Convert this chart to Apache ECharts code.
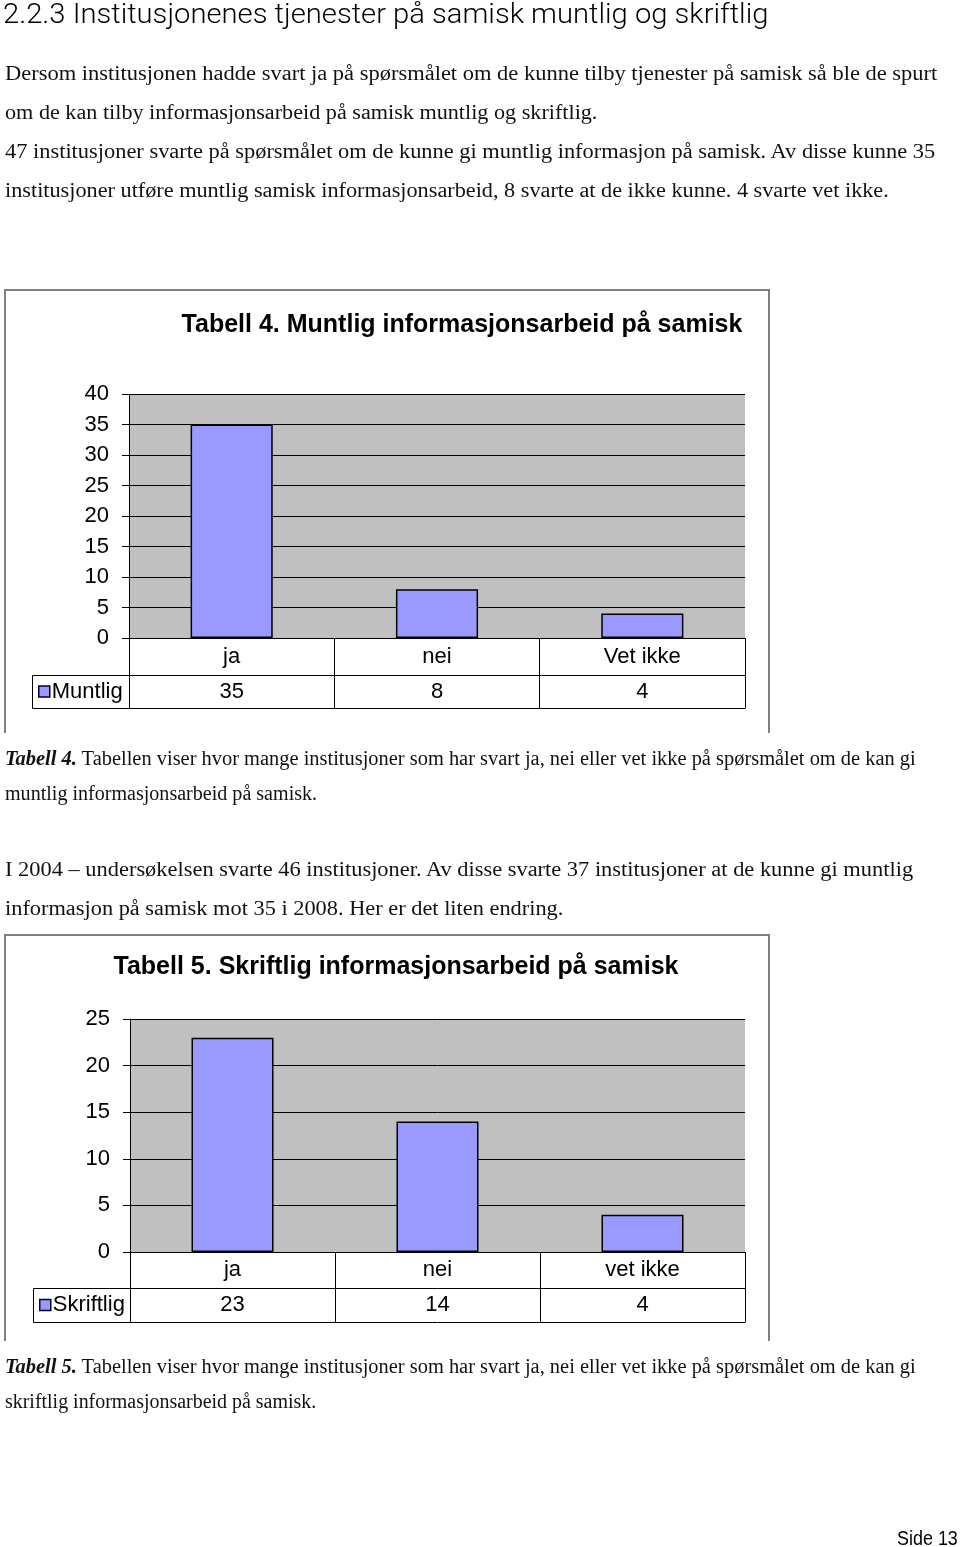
<!DOCTYPE html>
<html><head><meta charset="utf-8">
<script src="https://cdn.jsdelivr.net/npm/echarts@6/dist/echarts.min.js"></script>
<style>
html,body{margin:0;padding:0;background:#fff;}
body{width:960px;height:1547px;position:relative;overflow:hidden;}
#c{position:absolute;left:0;top:0;width:960px;height:1547px;z-index:1;}
.t{position:absolute;left:5px;white-space:nowrap;font-family:"Liberation Serif",serif;font-size:20px;line-height:30px;color:#111;transform-origin:0 0;z-index:2;}
.h{font-family:Roboto,"Liberation Sans",sans-serif;font-weight:300;font-size:28px;line-height:32px;left:3px;color:#000;}
.s{font-family:"Liberation Sans Narrow","Liberation Sans",sans-serif;font-size:20px;line-height:24px;left:897px;color:#000;}
.frame{position:absolute;border:2px solid #808080;border-bottom:none;z-index:0;}
</style></head>
<body>
<div class="frame" style="left:4px;top:289px;width:762px;height:442px;"></div>
<div class="frame" style="left:4px;top:934px;width:762px;height:405px;"></div>
<div id="c"></div>
<div class="t h" data-w="765" style="top:-2px;">2.2.3 Institusjonenes tjenester på samisk muntlig og skriftlig</div>
<div class="t" data-w="932" style="top:58px;">Dersom institusjonen hadde svart ja på spørsmålet om de kunne tilby tjenester på samisk så ble de spurt</div>
<div class="t" data-w="592" style="top:97px;">om de kan tilby informasjonsarbeid på samisk muntlig og skriftlig.</div>
<div class="t" data-w="930" style="top:136px;">47 institusjoner svarte på spørsmålet om de kunne gi muntlig informasjon på samisk. Av disse kunne 35</div>
<div class="t" data-w="884" style="top:175px;">institusjoner utføre muntlig samisk informasjonsarbeid, 8 svarte at de ikke kunne. 4 svarte vet ikke.</div>
<div class="t" data-w="911" style="top:743px;"><b><i>Tabell 4.</i></b> Tabellen viser hvor mange institusjoner som har svart ja, nei eller vet ikke på spørsmålet om de kan gi</div>
<div class="t" data-w="312" style="top:778px;">muntlig informasjonsarbeid på samisk.</div>
<div class="t" data-w="908" style="top:854px;">I 2004 – undersøkelsen svarte 46 institusjoner. Av disse svarte 37 institusjoner at de kunne gi muntlig</div>
<div class="t" data-w="558" style="top:893px;">informasjon på samisk mot 35 i 2008. Her er det liten endring.</div>
<div class="t" data-w="911" style="top:1351px;"><b><i>Tabell 5.</i></b> Tabellen viser hvor mange institusjoner som har svart ja, nei eller vet ikke på spørsmålet om de kan gi</div>
<div class="t" data-w="311" style="top:1386px;">skriftlig informasjonsarbeid på samisk.</div>
<div class="t s" data-w="61" style="top:1526px;">Side 13</div>
<script>
// ---- data ----
const categories1 = ['ja', 'nei', 'Vet ikke'];
const muntlig = [35, 8, 4];
const seriesName1 = 'Muntlig';
const title1 = 'Tabell 4. Muntlig informasjonsarbeid på samisk';
const yAxis1 = { min: 0, max: 40, interval: 5 };

const categories2 = ['ja', 'nei', 'vet ikke'];
const skriftlig = [23, 14, 4];
const seriesName2 = 'Skriftlig';
const title2 = 'Tabell 5. Skriftlig informasjonsarbeid på samisk';
const yAxis2 = { min: 0, max: 25, interval: 5 };

// fit text lines
document.querySelectorAll('.t[data-w]').forEach(el => {
  const w = +el.getAttribute('data-w');
  const nat = el.offsetWidth;
  if (nat > 0) el.style.transform = 'scaleX(' + (w / nat) + ')';
});

const FONT = '"Liberation Sans", Arial, sans-serif';
const BLACK = '#000';
const FS = 22;

function lbl(margin, extra) {
  return Object.assign({ show: true, interval: 0, fontSize: FS, lineHeight: FS, color: BLACK, fontFamily: FONT, margin }, extra || {});
}
function catAxis(gridIndex, data, opts) {
  return Object.assign({
    type: 'category', gridIndex, data, position: 'bottom', boundaryGap: true,
    axisLine: { show: true, lineStyle: { color: BLACK, width: 1 } },
    axisTick: { show: false },
    axisLabel: lbl(8),
    splitLine: { show: false }
  }, opts);
}
function valAxis(gridIndex, r) {
  return {
    type: 'value', gridIndex, min: r.min, max: r.max, interval: r.interval,
    axisLine: { show: true, lineStyle: { color: BLACK, width: 1 } },
    axisTick: { show: true, length: 7, lineStyle: { color: BLACK } },
    axisLabel: { fontSize: FS, color: BLACK, fontFamily: FONT, margin: 20 },
    splitLine: { show: true, lineStyle: { color: BLACK, width: 1 } }
  };
}
const tick70 = { show: true, length: 70, interval: 0, lineStyle: { color: BLACK } };

const chart = echarts.init(document.getElementById('c'), null, { renderer: 'canvas' });
const option = {
  animation: false,
  backgroundColor: 'transparent',
  grid: [
    { left: 129, top: 394, width: 616, height: 244, show: true, backgroundColor: '#C0C0C0', borderWidth: 0, containLabel: false },
    { left: 130, top: 1019, width: 615, height: 233, show: true, backgroundColor: '#C0C0C0', borderWidth: 0, containLabel: false }
  ],
  xAxis: [
    catAxis(0, categories1, { axisTick: tick70, axisLabel: lbl(7.5) }),
    catAxis(0, muntlig.map(String), { offset: 37, axisLabel: lbl(5.5) }),
    catAxis(0, categories1, { offset: 70, axisLabel: { show: false } }),
    catAxis(1, categories2, { axisTick: tick70, axisLabel: lbl(7) }),
    catAxis(1, skriftlig.map(String), { offset: 36, axisLabel: lbl(6) }),
    catAxis(1, categories2, { offset: 70, axisLabel: { show: false } })
  ],
  yAxis: [valAxis(0, yAxis1), valAxis(1, yAxis2)],
  legend: [
    { data: [seriesName1], left: 38, top: 680.5, padding: 0, itemWidth: 11, itemHeight: 11, icon: 'rect', selectedMode: false,
      itemStyle: { color: '#9999FF', borderColor: '#000033', borderWidth: 1.5 },
      textStyle: { fontSize: FS, color: BLACK, fontFamily: FONT, padding: [0, 0, 0, -3] } },
    { data: [seriesName2], left: 39, top: 1294, padding: 0, itemWidth: 11, itemHeight: 11, icon: 'rect', selectedMode: false,
      itemStyle: { color: '#9999FF', borderColor: '#000033', borderWidth: 1.5 },
      textStyle: { fontSize: FS, color: BLACK, fontFamily: FONT, padding: [0, 0, 0, -3] } }
  ],
  series: [
    { type: 'bar', name: seriesName1, xAxisIndex: 0, yAxisIndex: 0, data: muntlig, barWidth: '40%',
      itemStyle: { color: '#9999FF', borderColor: BLACK, borderWidth: 1.5 } },
    { type: 'bar', name: seriesName2, xAxisIndex: 3, yAxisIndex: 1, data: skriftlig, barWidth: '40%',
      itemStyle: { color: '#9999FF', borderColor: BLACK, borderWidth: 1.5 } }
  ],
  graphic: [
    { type: 'text', x: 462, y: 325, style: { text: title1, font: 'bold 25px "Liberation Sans", Arial, sans-serif', fill: BLACK, align: 'center', verticalAlign: 'middle', textAlign: 'center', textVerticalAlign: 'middle' } },
    { type: 'text', x: 396, y: 967, style: { text: title2, font: 'bold 25px "Liberation Sans", Arial, sans-serif', fill: BLACK, align: 'center', verticalAlign: 'middle', textAlign: 'center', textVerticalAlign: 'middle' } },
    { type: 'rect', shape: { x: 32.5, y: 675.5, width: 97, height: 33 }, style: { fill: 'none', stroke: BLACK, lineWidth: 1 } },
    { type: 'rect', shape: { x: 33.5, y: 1288.5, width: 97, height: 34 }, style: { fill: 'none', stroke: BLACK, lineWidth: 1 } }
  ]
};
chart.setOption(option);
</script>
</body></html>
